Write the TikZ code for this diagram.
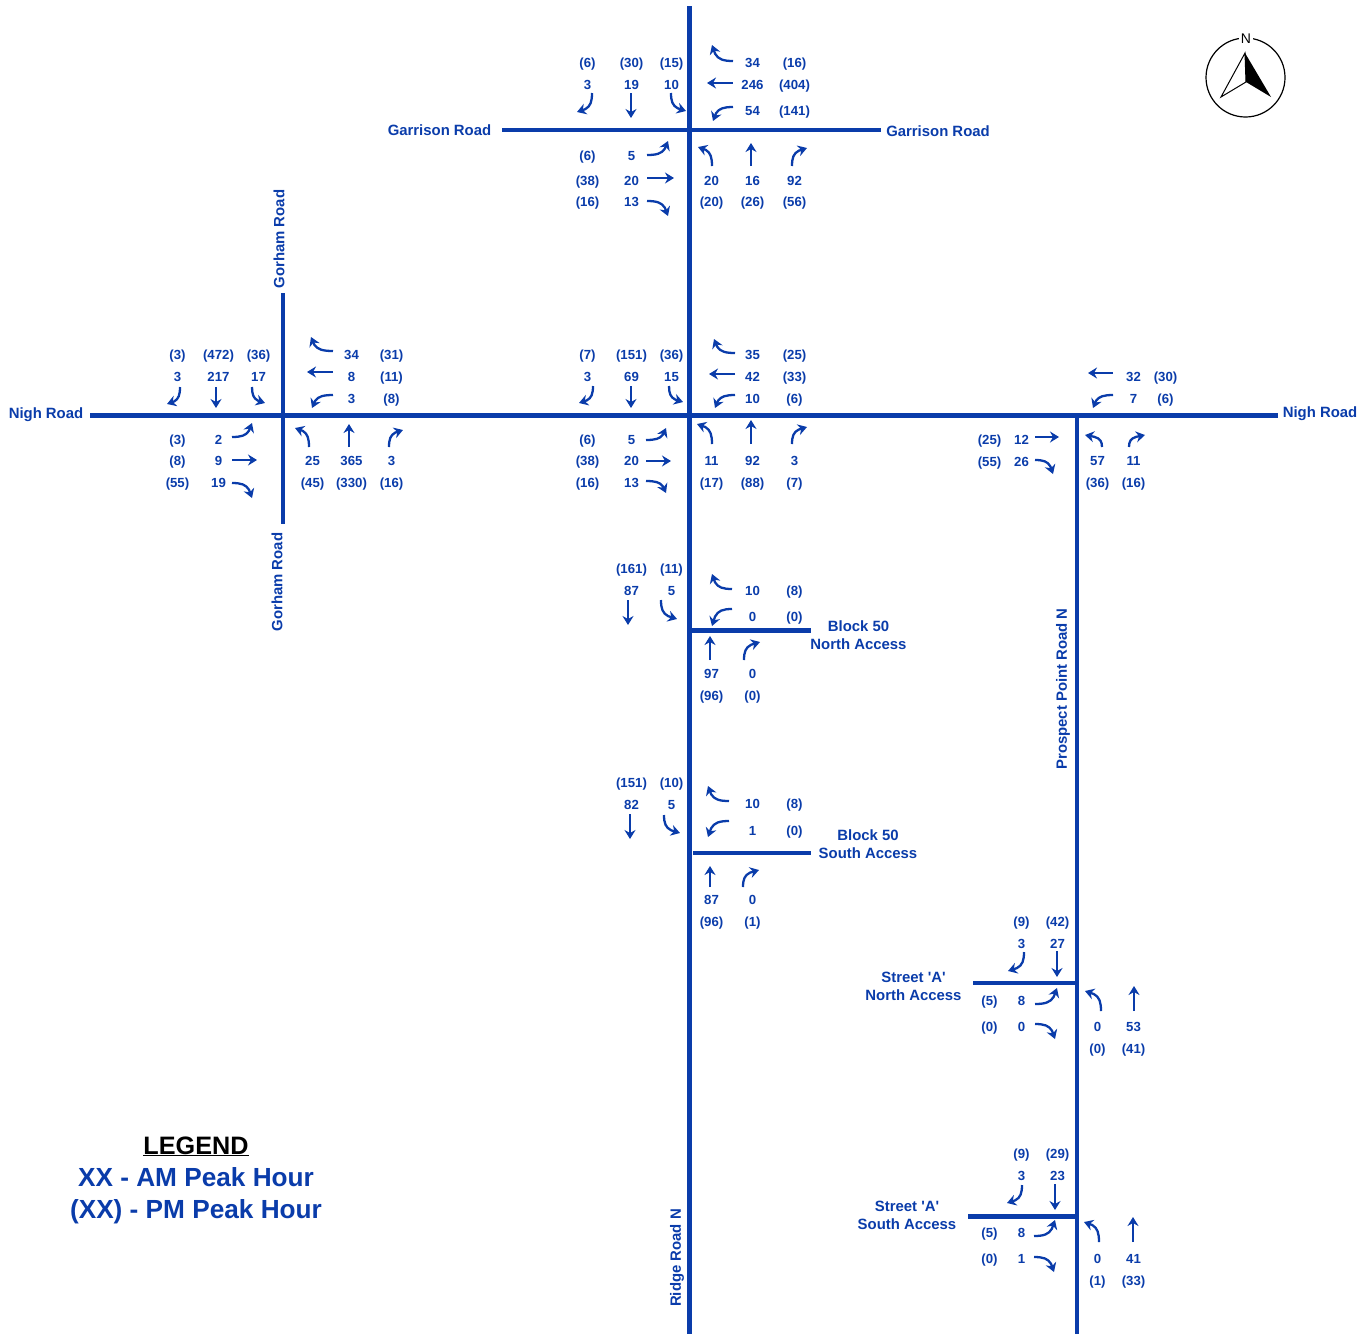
\documentclass[tikz,border=0pt]{standalone}
\usepackage{fontspec}
\setmainfont{Liberation Sans}
\usetikzlibrary{arrows.meta}
\definecolor{roadblue}{RGB}{10,60,170}
\tikzset{
    road/.style={line width=4.6pt,roadblue},
    turn/.style={line width=2.3pt,roadblue,-{Stealth[length=9pt,width=11pt,inset=3pt]}},
    vol/.style={font=\bfseries\fontsize{13.2}{15}\selectfont,text=roadblue,inner sep=0pt,text height=9.4pt,text depth=0pt,xshift=0.5pt,yshift=-1pt},
    roadname/.style={font=\bfseries\fontsize{14.9}{18}\selectfont,text=roadblue,inner sep=0pt,align=center},
    legendline/.style={font=\bfseries\fontsize{26.2}{30}\selectfont,text=roadblue,inner sep=0pt,anchor=base}
}
\begin{document}
\begin{tikzpicture}[x=1pt,y=-1pt]
    \useasboundingbox (0,0) rectangle (1371,1334);
    % Roads
    \draw[road] (689.5,6) -- (689.5,1334);
    \draw[road] (502,130) -- (881,130);
    \draw[road] (90,415.5) -- (1278,415.5);
    \draw[road] (283,293) -- (283,524);
    \draw[road] (1077,415.5) -- (1077,1334);
    \draw[road] (689.5,630.5) -- (811,630.5);
    \draw[road] (693,853) -- (811,853);
    \draw[road] (973,983) -- (1077,983);
    \draw[road] (968,1216.5) -- (1077,1216.5);
    % Road names
    \node[roadname] (garrisonw) at (439.5,130) {Garrison Road};
    \node[roadname] (garrisone) at (938,131) {Garrison Road};
    \node[roadname] (nighw) at (46,415) {Nigh Road};
    \node[roadname] (nighe) at (1320,414) {Nigh Road};
    \node[roadname,rotate=90] (gorhamn) at (279,239) {Gorham Road};
    \node[roadname,rotate=90] (gorhams) at (277,582) {Gorham Road};
    \node[roadname,rotate=90] (prospect) at (1063,689) {Prospect Point Road N};
    \node[roadname,rotate=90] (ridge) at (677,1258) {Ridge Road N};
    \node[roadname] (blockn) at (858.5,635.5) {Block 50\\North Access};
    \node[roadname] (blocks) at (868,844) {Block 50\\South Access};
    \node[roadname] (streetn) at (913.5,986.5) {Street \textquotesingle A\textquotesingle\\North Access};
    \node[roadname] (streets) at (907,1215) {Street \textquotesingle A\textquotesingle\\South Access};
    % Volumes
    \foreach \lx/\ly/\txt in {
        587/62/(6),631/62/(30),671/62/(15),587/84/3,631/84/19,671/84/10,
        752/62/34,794/62/(16),752/84/246,794/84/(404),752/110/54,794/110/(141),
        587/155/(6),631/155/5,587/180/(38),631/180/20,587/201/(16),631/201/13,
        711/180/20,752/180/16,794/180/92,711/201/(20),752/201/(26),794/201/(56),
        177/354/(3),218/354/(472),258/354/(36),177/376/3,218/376/217,258/376/17,
        351/354/34,391/354/(31),351/376/8,391/376/(11),351/398/3,391/398/(8),
        177/439/(3),218/439/2,177/460/(8),218/460/9,177/482/(55),218/482/19,
        312/460/25,351/460/365,391/460/3,312/482/(45),351/482/(330),391/482/(16),
        587/354/(7),631/354/(151),671/354/(36),587/376/3,631/376/69,671/376/15,
        752/354/35,794/354/(25),752/376/42,794/376/(33),752/398/10,794/398/(6),
        587/439/(6),631/439/5,587/460/(38),631/460/20,587/482/(16),631/482/13,
        711/460/11,752/460/92,794/460/3,711/482/(17),752/482/(88),794/482/(7),
        1133/376/32,1165/376/(30),1133/398/7,1165/398/(6),
        989/439/(25),1021/439/12,989/461/(55),1021/461/26,
        1097/460/57,1133/460/11,1097/482/(36),1133/482/(16),
        631/568/(161),671/568/(11),631/590/87,671/590/5,
        752/590/10,794/590/(8),752/616/0,794/616/(0),
        711/673/97,752/673/0,711/695/(96),752/695/(0),
        631/782/(151),671/782/(10),631/804/82,671/804/5,
        752/803/10,794/803/(8),752/830/1,794/830/(0),
        711/899/87,752/899/0,711/921/(96),752/921/(1),
        1021/921/(9),1057/921/(42),1021/943/3,1057/943/27,
        989/1000/(5),1021/1000/8,989/1026/(0),1021/1026/0,
        1097/1026/0,1133/1026/53,1097/1048/(0),1133/1048/(41),
        1021/1153/(9),1057/1153/(29),1021/1175/3,1057/1175/23,
        989/1232/(5),1021/1232/8,989/1258/(0),1021/1258/1,
        1097/1258/0,1133/1258/41,1097/1280/(1),1133/1280/(33)}
        \node[vol] (v\lx-\ly) at (\lx,\ly) {\txt};
    % Through movements
    \foreach \xa/\ya/\xb/\yb in {
        631/93/631/118,733/83/707/83,647/178/674/178,751/166/751/143,
        216/387/216/408,333/372/307/372,232/460/257/460,349/447/349/424,
        631/386/631/408,735/374/709/374,646/461/671/461,751/444/751/420,
        1113/373/1088/373,1035/437/1059/437,
        628/600/628/625,710/660/710/636,630/814/630/839,710/887/710/866,
        1057/951/1057/977,1134/1011/1134/986,1055/1184/1055/1210,1133/1242/1133/1217}
        \draw[turn] (\xa,\ya) -- (\xb,\yb);
    % Turns leaving along the road
    \foreach \xa/\ya/\xb/\yb in {
        733/61/712/45,733/107/713/121,647/155/668/141,647/201/668/216,
        333/351/311/337,333/395/312/408,232/437/252/423,232/483/252/498,
        735/353/714/339,735/395/715/408,646/440/666/428,646/481/666/493,
        1113/395/1093/408,1035/460/1053/474,
        732/589/712/574,732/609/712/626,729/801/708/786,729/821/708/837,
        1035/1004/1057/988,1035/1024/1055/1039,1034/1236/1055/1220,1034/1257/1054/1272}
        \draw[turn] (\xa,\ya) .. controls ({\xa+0.45*(\xb-\xa)},\ya) and ({\xb+0.3*(\xa-\xb)},{\ya+0.1*(\yb-\ya)}) .. ({\xb+0.15*(\xa-\xb)},{\ya+0.45*(\yb-\ya)}) -- (\xb,\yb);
    % Turns leaving across the road
    \foreach \xa/\ya/\xb/\yb in {
        592/93/577/112,671/93/686/111,712/166/698/147,792/166/807/148,
        180/387/167/404,252/387/265/403,309/447/295/428,389/447/403/430,
        593/386/579/403,669/386/683/402,712/444/697/424,792/444/807/427,
        1102/447/1085/435,1129/447/1145/435,
        661/600/677/619,744/660/760/642,664/815/680/833,743/887/759/870,
        1024/952/1008/971,1101/1011/1085/991,1022/1185/1007/1203,1099/1242/1084/1222}
        \draw[turn] (\xa,\ya) .. controls (\xa,{\ya+0.45*(\yb-\ya)}) and ({\xa+0.1*(\xb-\xa)},{\yb+0.3*(\ya-\yb)}) .. ({\xa+0.45*(\xb-\xa)},{\yb+0.15*(\ya-\yb)}) -- (\xb,\yb);
    % North arrow
    \draw[line width=1.2pt] (1245.5,77.5) circle (39.5);
    \node[fill=white,inner sep=1.5pt,font=\fontsize{14}{16}\selectfont] (north) at (1246,39) {N};
    \draw[line width=1pt,fill=white] (1245,53) -- (1221,97) -- (1246,82) -- cycle;
    \fill[black] (1245,53) -- (1271,97) -- (1246,82) -- cycle;
    % Legend
    \node[legendline,text=black,font=\bfseries\fontsize{25.2}{30}\selectfont] (legendhead) at (196,1154) {\underline{LEGEND}};
    \node[legendline] (legendam) at (196,1186) {XX - AM Peak Hour};
    \node[legendline] (legendpm) at (196,1218) {(XX) - PM Peak Hour};
\end{tikzpicture}
\end{document}
